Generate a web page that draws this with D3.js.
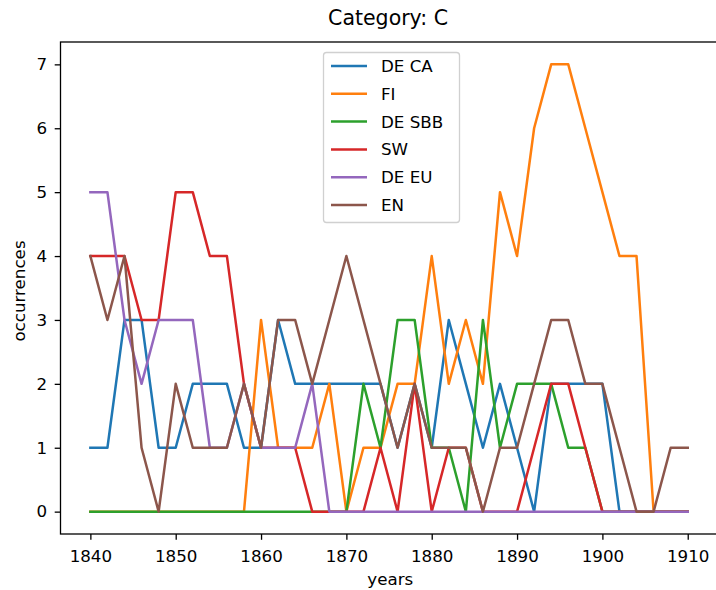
<!DOCTYPE html>
<html>
<head>
<meta charset="utf-8">
<script src="https://cdn.jsdelivr.net/npm/d3@7"></script>
<style>
  body { margin: 0; background: #fff; }
  svg { font-family: "DejaVu Sans", sans-serif; }
</style>
</head>
<body>
<svg id="chart" width="716" height="590"></svg>
<script>
const years = [1840, 1842, 1844, 1846, 1848, 1850, 1852, 1854, 1856, 1858,
  1860, 1862, 1864, 1866, 1868, 1870, 1872, 1874, 1876, 1878,
  1880, 1882, 1884, 1886, 1888, 1890, 1892, 1894, 1896, 1898,
  1900, 1902, 1904, 1906, 1908, 1910];

const seriesNames = ["DE CA", "FI", "DE SBB", "SW", "DE EU", "EN"];

const deCa = [1, 1, 3, 3, 1, 1, 2, 2, 2, 1, 1, 3, 2, 2, 2, 2, 2, 2, 1, 2, 1, 3, 2, 1, 2, 1, 0, 2, 2, 2, 2, 0, 0, 0, 0, 0];
const fi = [0, 0, 0, 0, 0, 0, 0, 0, 0, 0, 3, 1, 1, 1, 2, 0, 1, 1, 2, 2, 4, 2, 3, 2, 5, 4, 6, 7, 7, 6, 5, 4, 4, 0, 0, 0];
const deSbb = [0, 0, 0, 0, 0, 0, 0, 0, 0, 0, 0, 0, 0, 0, 0, 0, 2, 1, 3, 3, 1, 1, 0, 3, 1, 2, 2, 2, 1, 1, 0, 0, 0, 0, 0, 0];
const sw = [4, 4, 4, 3, 3, 5, 5, 4, 4, 2, 1, 1, 1, 0, 0, 0, 0, 1, 0, 2, 0, 1, 1, 0, 0, 0, 1, 2, 2, 1, 0, 0, 0, 0, 0, 0];
const deEu = [5, 5, 3, 2, 3, 3, 3, 1, 1, 2, 1, 1, 1, 2, 0, 0, 0, 0, 0, 0, 0, 0, 0, 0, 0, 0, 0, 0, 0, 0, 0, 0, 0, 0, 0, 0];
const en = [4, 3, 4, 1, 0, 2, 1, 1, 1, 2, 1, 3, 3, 2, 3, 4, 3, 2, 1, 2, 1, 1, 1, 0, 1, 1, 2, 3, 3, 2, 2, 1, 0, 0, 1, 1];

const seriesValues = [deCa, fi, deSbb, sw, deEu, en];
const colors = ["#1f77b4", "#ff7f0e", "#2ca02c", "#d62728", "#9467bd", "#8c564b"];

const xTicks = [1840, 1850, 1860, 1870, 1880, 1890, 1900, 1910];
const yTicks = [0, 1, 2, 3, 4, 5, 6, 7];

const svg = d3.select("#chart");

const plotLeft = 60.5, plotTop = 42, plotRight = 717.6, plotBottom = 534;
const fontSize = 16.7;

const x = d3.scaleLinear().domain([1836.5, 1913.5]).range([plotLeft, plotRight]);
const y = d3.scaleLinear().domain([-0.35, 7.35]).range([plotBottom, plotTop]);

const line = d3.line()
  .x((d, i) => x(years[i]))
  .y(d => y(d));

const plot = svg.append("g").attr("class", "lines");
seriesValues.forEach((vals, k) => {
  plot.append("path")
    .datum(vals)
    .attr("fill", "none")
    .attr("stroke", colors[k])
    .attr("stroke-width", 2.5)
    .attr("stroke-linejoin", "round")
    .attr("stroke-linecap", "square")
    .attr("d", line);
});

// frame
svg.append("rect")
  .attr("x", plotLeft).attr("y", plotTop)
  .attr("width", plotRight - plotLeft).attr("height", plotBottom - plotTop)
  .attr("fill", "none").attr("stroke", "#000").attr("stroke-width", 1.3);

const xAxis = svg.append("g")
  .attr("transform", `translate(0,${plotBottom})`)
  .call(d3.axisBottom(x).tickValues(xTicks).tickFormat(d3.format("d")).tickSize(5.8));
const yAxis = svg.append("g")
  .attr("transform", `translate(${plotLeft},0)`)
  .call(d3.axisLeft(y).tickValues(yTicks).tickFormat(d3.format("d")).tickSize(5.8).tickPadding(7.5));

[xAxis, yAxis].forEach(a => {
  a.select(".domain").remove();
  a.selectAll("text").attr("font-size", fontSize).attr("fill", "#000").attr("font-family", "DejaVu Sans");
  a.selectAll("line").attr("stroke", "#000").attr("stroke-width", 1.3);
});
xAxis.selectAll("text").attr("y", 28).attr("dy", 0);

svg.append("text")
  .attr("x", (plotLeft + plotRight) / 2 - 1)
  .attr("y", 25)
  .attr("text-anchor", "middle")
  .attr("font-size", 20.5)
  .text("Category: C");

svg.append("text")
  .attr("x", (plotLeft + 716) / 2 + 2)
  .attr("y", 585)
  .attr("text-anchor", "middle")
  .attr("font-size", fontSize)
  .text("years");

svg.append("text")
  .attr("transform", `translate(25,${(plotTop + plotBottom) / 2 + 3}) rotate(-90)`)
  .attr("text-anchor", "middle")
  .attr("font-size", fontSize)
  .text("occurrences");

// legend
const legend = svg.append("g").attr("class", "legend");
legend.append("rect")
  .attr("x", 323.5).attr("y", 52.5)
  .attr("width", 136).attr("height", 170)
  .attr("rx", 3)
  .attr("fill", "#fff").attr("fill-opacity", 0.8)
  .attr("stroke", "#d0d0d0").attr("stroke-width", 1.3);

seriesNames.forEach((name, k) => {
  const cy = 66 + k * 27.8;
  legend.append("line")
    .attr("x1", 331).attr("x2", 367)
    .attr("y1", cy).attr("y2", cy)
    .attr("stroke", colors[k]).attr("stroke-width", 2.5);
  legend.append("text")
    .attr("x", 381).attr("y", cy)
    .attr("dy", "0.36em")
    .attr("font-size", fontSize)
    .text(name);
});
</script>
</body>
</html>
